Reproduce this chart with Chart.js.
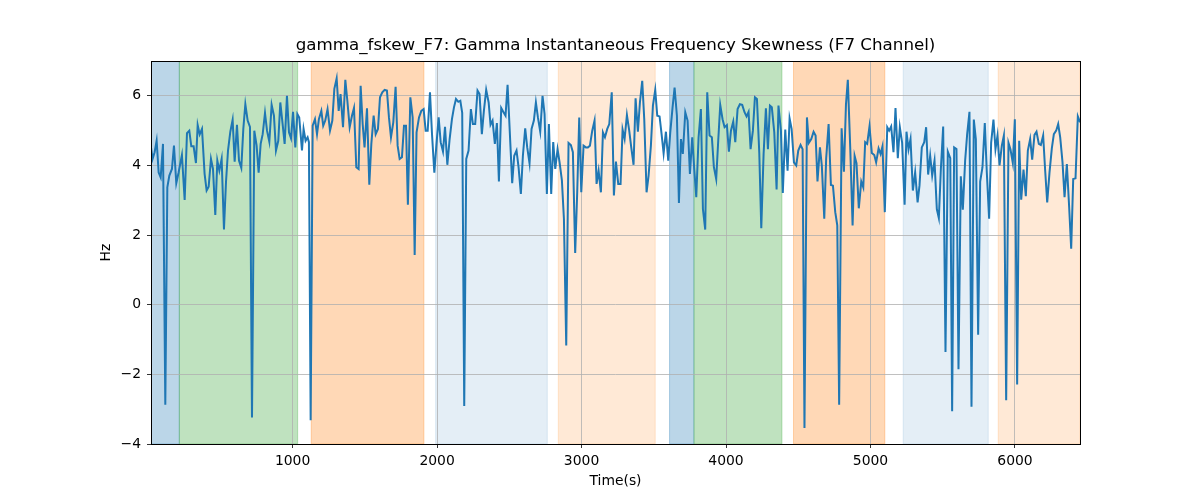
<!DOCTYPE html>
<html>
<head>
<meta charset="utf-8">
<script src="https://cdn.jsdelivr.net/npm/chart.js@4.4.1/dist/chart.umd.min.js"></script>
<style>
  body { margin: 0; background: #fff; }
  #chart-wrap { width: 1200px; height: 500px; }
</style>
</head>
<body>
<div id="chart-wrap"><canvas id="fskewChart" width="1200" height="500"></canvas></div>
<script>
// gamma_fskew_F7 - wartosci
const times = [
  20, 31, 45, 59, 73, 87, 103, 119, 133, 147, 165, 179, 195, 211, 234, 253, 269, 285, 299, 315,
  331, 343, 357, 373, 391, 405, 419, 435, 449, 465, 479, 493, 509, 525, 539, 553, 569, 585, 599, 615,
  629, 645, 659, 673, 689, 705, 719, 735, 751, 765, 779, 793, 809, 823, 839, 855, 871, 885, 901, 915,
  931, 945, 961, 975, 989, 1003, 1019, 1033, 1046,
  1065, 1076, 1090, 1104, 1113, 1125, 1139, 1155, 1169, 1182, 1199, 1212, 1226, 1242, 1259, 1275, 1289, 1305, 1319, 1332,
  1349, 1365, 1379, 1395, 1411, 1425, 1441, 1457, 1471, 1485, 1498, 1515, 1531, 1545, 1561, 1575, 1591, 1605, 1621, 1637,
  1653, 1667, 1681, 1697, 1713, 1727, 1741, 1757, 1771, 1785, 1798, 1815, 1831, 1845, 1858, 1875, 1891, 1907, 1921, 1935,
  1951, 1965, 1981, 1995, 2011, 2025, 2041, 2055, 2071, 2087, 2103, 2117,
  2131, 2147, 2161, 2174, 2188, 2202, 2218, 2234, 2248, 2264, 2280, 2294, 2310, 2324, 2340, 2357, 2370, 2384, 2400, 2414,
  2428, 2444, 2460, 2474, 2488, 2504, 2520, 2534, 2550, 2564, 2580, 2594, 2610, 2624, 2640, 2654, 2670, 2684, 2698, 2714,
  2730, 2744, 2760, 2774, 2790, 2804, 2818, 2834, 2848, 2864, 2878, 2894, 2910, 2926, 2940, 2956, 2970, 2984, 2998, 3014,
  3030, 3044, 3058, 3074, 3090, 3104, 3118, 3134, 3148, 3162, 3178, 3192, 3209, 3224,
  3238, 3254, 3270, 3284, 3298, 3314, 3330, 3344, 3360, 3374, 3390, 3404, 3420, 3434, 3450, 3464, 3480, 3494, 3510, 3524,
  3540, 3554, 3568, 3584, 3600, 3614, 3630, 3644, 3660, 3674, 3688, 3701, 3718, 3734, 3750, 3766, 3780, 3794, 3810, 3826,
  3840, 3856, 3870, 3886, 3902, 3916, 3932, 3946, 3960, 3976, 3990, 4006, 4020, 4034, 4050, 4064, 4080, 4096, 4112, 4128,
  4142, 4156, 4170, 4186, 4200, 4214, 4230, 4244, 4260, 4276,
  4290, 4304, 4317, 4334, 4350, 4363, 4380, 4393, 4410, 4426, 4440, 4454, 4470, 4486, 4500, 4516, 4530, 4543, 4560, 4573,
  4590, 4606, 4620, 4633, 4650, 4663, 4680, 4693, 4710, 4726, 4740, 4756, 4770, 4783, 4800, 4816, 4830, 4843, 4860, 4876,
  4890, 4903, 4919, 4936, 4950, 4963, 4977, 4993, 5009, 5026, 5039, 5056, 5070, 5083, 5099, 5116, 5129, 5143, 5159, 5173,
  5189, 5203, 5219, 5236, 5249, 5263, 5277, 5293, 5309, 5326, 5339,
  5355, 5372, 5385, 5399, 5413, 5427, 5443, 5459, 5473, 5487, 5503, 5519, 5535, 5552, 5565, 5579, 5595, 5609, 5625, 5639,
  5655, 5669, 5685, 5699, 5715, 5729, 5745, 5759, 5775, 5791, 5805, 5821, 5835, 5851, 5865, 5879, 5893, 5909, 5923, 5939,
  5955, 5969, 5985, 5999, 6015, 6029, 6043, 6059, 6075, 6089, 6105, 6119, 6135, 6149, 6165, 6179, 6195, 6209, 6223, 6239,
  6255, 6269, 6285, 6299, 6313, 6329, 6343, 6359, 6375, 6389, 6403, 6419, 6435, 6451
];

const values = [
  4.52, 4.19, 4.38, 4.71, 3.80, 3.66, 4.62, -2.87, 3.37, 3.71, 3.90, 4.57, 3.49, 3.80, 4.30, 3.01, 4.93, 5.00, 4.55, 4.55,
  4.07, 5.16, 4.89, 5.05, 3.76, 3.28, 3.39, 4.19, 3.90, 2.58, 4.14, 3.85, 4.19, 2.16, 3.52, 4.43, 4.97, 5.31, 4.11, 5.17,
  4.14, 3.93, 5.05, 5.76, 5.29, 5.11, -3.24, 5.00, 4.57, 3.79, 4.62, 4.90, 5.51, 5.00, 4.68, 5.74, 5.43, 4.43, 4.71, 5.81,
  5.19, 4.62, 6.00, 4.95, 4.78, 5.54, 4.52, 5.48, 5.38,
  4.43, 5.05, 4.71, 4.81, 4.67, -3.32, 5.14, 5.33, 4.90, 5.33, 5.57, 5.14, 5.29, 5.62, 5.00, 5.29, 6.20, 6.50, 5.57, 6.05,
  5.10, 6.46, 5.86, 5.10, 5.43, 5.65, 3.95, 3.90, 6.29, 5.19, 4.52, 5.64, 3.45, 4.62, 5.43, 4.90, 5.05, 5.96, 6.10, 6.17,
  6.15, 5.38, 4.81, 5.24, 6.26, 4.57, 4.19, 4.24, 5.14, 5.14, 2.87, 5.96, 5.38, 1.43, 4.95, 5.38, 5.57, 5.62, 5.00, 5.00,
  6.10, 4.90, 3.79, 4.57, 5.38, 4.67, 4.40, 5.11, 4.02, 4.76, 5.33, 5.67,
  5.91, 5.83, 5.86, 5.51, -2.91, 4.19, 4.43, 5.62, 5.19, 5.19, 6.15, 6.05, 4.90, 5.57, 6.17, 5.81, 5.17, 5.29, 4.62, 5.22,
  3.54, 5.65, 5.53, 5.43, 6.32, 4.90, 3.49, 4.28, 4.43, 3.95, 3.18, 4.28, 5.07, 4.52, 4.06, 5.05, 5.29, 5.81, 5.38, 4.97,
  6.00, 5.48, 3.18, 5.19, 3.18, 4.67, 3.90, 4.47, 4.09, 3.57, 2.47, -1.17, 4.65, 4.59, 4.38, 1.49, 3.23, 5.38, 3.23, 4.57,
  4.52, 4.52, 4.57, 5.00, 5.29, 3.47, 3.85, 3.23, 4.95, 4.81, 5.05, 5.19, 6.10, 3.14,
  4.11, 3.47, 3.47, 5.03, 4.76, 5.45, 5.00, 4.52, 4.02, 5.93, 4.97, 5.81, 6.43, 5.33, 3.23, 3.71, 4.57, 5.72, 6.17, 5.43,
  5.41, 4.90, 4.35, 4.97, 4.14, 4.95, 5.67, 6.24, 5.43, 2.92, 4.76, 4.33, 5.53, 5.29, 3.76, 4.81, 3.90, 3.09, 4.81, 5.62,
  2.75, 2.16, 6.10, 4.86, 4.81, 3.95, 3.61, 4.71, 5.74, 5.33, 5.10, 5.16, 4.40, 5.00, 5.26, 4.67, 5.62, 5.76, 5.74, 5.53,
  5.41, 5.54, 4.47, 5.00, 5.96, 5.91, 4.38, 2.20, 4.33, 5.64,
  4.47, 5.72, 5.67, 4.95, 3.31, 5.72, 5.00, 3.21, 5.03, 3.85, 5.35, 5.05, 4.09, 4.00, 4.43, 4.59, 4.47, -3.54, 5.38, 4.65,
  4.76, 4.97, 4.86, 3.54, 4.52, 4.00, 2.47, 4.19, 5.19, 3.44, 3.42, 2.66, 2.28, -2.87, 5.07, 3.82, 5.74, 6.46, 4.47, 2.28,
  4.28, 4.07, 2.77, 3.54, 3.37, 4.67, 4.62, 5.12, 4.36, 4.30, 4.09, 4.49, 4.33, 4.55, 2.66, 5.10, 5.00, 5.12, 4.38, 5.65,
  4.21, 5.10, 4.65, 2.87, 4.97, 4.46, 4.76, 3.28, 3.80, 2.94, 3.42,
  4.52, 4.67, 5.10, 3.74, 4.28, 3.71, 4.14, 2.75, 2.49, 3.90, 5.12, -1.36, 4.40, 4.21, -3.06, 4.52, 4.47, -1.85, 3.69, 2.73,
  4.14, 4.90, 5.54, -2.93, 5.32, 4.76, -0.86, 3.54, 3.95, 5.22, 3.80, 2.47, 4.65, 5.32, 4.47, 4.86, 4.00, 4.57, 4.86, -2.74,
  4.65, 4.46, 4.07, 5.33, -2.29, 4.71, 3.02, 3.88, 3.12, 4.43, 4.76, 4.17, 4.88, 4.97, 4.62, 4.59, 4.86, 3.85, 2.94, 3.80,
  4.49, 4.90, 5.00, 5.19, 4.81, 4.09, 3.09, 4.04, 2.80, 1.61, 3.61, 3.63, 5.41, 5.24
];

// przedzialy tla (czas w s)
const bandStart = [20, 216, 1129, 1990, 2839, 3609, 3778, 4467, 5226, 5884];
const bandEnd   = [216, 1035, 1909, 2763, 3510, 3778, 4387, 5099, 5815, 6450];
const bandKind  = ['blue', 'green', 'orange', 'lightblue', 'lightorange',
                   'blue', 'green', 'orange', 'lightblue', 'lightorange'];

const xTicks = [1000, 2000, 3000, 4000, 5000, 6000];
const yTicks = [-4, -2, 0, 2, 4, 6];

const BAND_COLORS = {
    blue: 'rgba(31, 119, 180, 0.3)',
    green: 'rgba(44, 160, 44, 0.3)',
    orange: 'rgba(255, 127, 14, 0.3)',
    lightblue: 'rgba(31, 119, 180, 0.12)',
    lightorange: 'rgba(255, 127, 14, 0.17)'
};

const FONT = 'DejaVu Sans';

// tlo - pasy rysowane przed siatka
const bandsPlugin = {
    id: 'bands',
    beforeDraw(chart) {
        const { ctx, chartArea, scales } = chart;
        ctx.save();
        ctx.beginPath();
        ctx.rect(chartArea.left, chartArea.top, chartArea.right - chartArea.left, chartArea.bottom - chartArea.top);
        ctx.clip();
        bandStart.forEach((start, i) => {
            const x0 = scales.x.getPixelForValue(start);
            const x1 = scales.x.getPixelForValue(bandEnd[i]);
            ctx.fillStyle = BAND_COLORS[bandKind[i]];
            ctx.fillRect(x0, chartArea.top, x1 - x0, chartArea.bottom - chartArea.top);
            ctx.strokeStyle = BAND_COLORS[bandKind[i]];
            ctx.lineWidth = 1;
            ctx.strokeRect(x0, chartArea.top, x1 - x0, chartArea.bottom - chartArea.top);
        });
        ctx.restore();
    }
};

// tytul wysrodkowany nad obszarem wykresu, jak w matplotlib
const titleCenterPlugin = {
    id: 'titleCenter',
    afterLayout(chart) {
        if (chart.titleBlock) {
            chart.titleBlock.left = chart.chartArea.left;
            chart.titleBlock.right = chart.chartArea.right;
        }
    }
};

// ramka wokol obszaru wykresu
const framePlugin = {
    id: 'frame',
    afterDraw(chart) {
        const { ctx, chartArea } = chart;
        ctx.save();
        ctx.strokeStyle = '#000';
        ctx.lineWidth = 1;
        ctx.strokeRect(Math.round(chartArea.left) + 0.5, Math.round(chartArea.top) + 0.5,
            Math.round(chartArea.right - chartArea.left), Math.round(chartArea.bottom - chartArea.top));
        ctx.restore();
    }
};

function fmtTick(v) {
    return v < 0 ? '\u2212' + Math.abs(v) : String(v);
}

const ctx = document.getElementById('fskewChart').getContext('2d');
new Chart(ctx, {
    type: 'line',
    data: {
        datasets: [{
            data: times.map((t, i) => ({ x: t, y: values[i] })),
            borderColor: '#1f77b4',
            borderWidth: 2,
            pointRadius: 0,
            tension: 0,
            fill: false
        }]
    },
    options: {
        responsive: false,
        animation: false,
        layout: { padding: { left: 0, right: 120, top: 0, bottom: 0 } },
        plugins: {
            legend: { display: false },
            tooltip: { enabled: false },
            title: {
                display: true,
                text: 'gamma_fskew_F7: Gamma Instantaneous Frequency Skewness (F7 Channel)',
                color: '#000',
                font: { family: FONT, size: 16.7, weight: 'normal' },
                padding: { top: 36, bottom: 5 }
            }
        },
        scales: {
            x: {
                type: 'linear',
                min: 20,
                max: 6450,
                afterBuildTicks: s => { s.ticks = xTicks.map(v => ({ value: v })); },
                afterFit: s => { s.height = 56; },
                grid: { color: '#b0b0b0', lineWidth: 0.8, tickColor: '#000', tickLength: 4 },
                border: { display: false },
                ticks: {
                    color: '#000',
                    font: { family: FONT, size: 13.9 },
                    padding: 5,
                    maxRotation: 0,
                    callback: v => fmtTick(v)
                },
                title: {
                    display: true,
                    text: 'Time(s)',
                    color: '#000',
                    font: { family: FONT, size: 13.9 },
                    padding: { top: 0, bottom: 10 }
                }
            },
            y: {
                min: -4,
                max: 7,
                afterBuildTicks: s => { s.ticks = yTicks.map(v => ({ value: v })); },
                afterFit: s => { s.width = 151; },
                grid: { color: '#b0b0b0', lineWidth: 0.8, tickColor: '#000', tickLength: 4 },
                border: { display: false },
                ticks: {
                    color: '#000',
                    font: { family: FONT, size: 13.9 },
                    padding: 6,
                    callback: v => fmtTick(v)
                },
                title: {
                    display: true,
                    text: 'Hz',
                    color: '#000',
                    font: { family: FONT, size: 13.9 },
                    padding: { top: 98, bottom: 0 }
                }
            }
        }
    },
    plugins: [bandsPlugin, titleCenterPlugin, framePlugin]
});
</script>
</body>
</html>
